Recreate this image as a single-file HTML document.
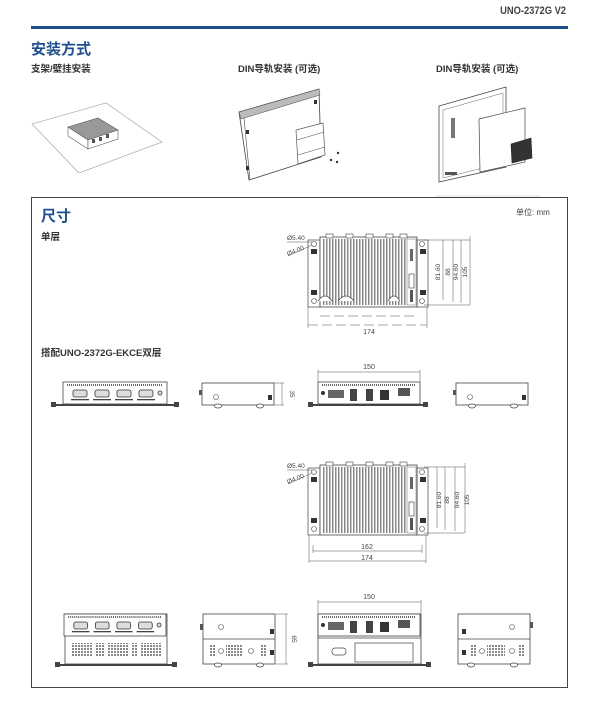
<!DOCTYPE html>
<html><head><meta charset="utf-8"><style>
html,body{margin:0;padding:0;background:#fff}
svg{display:block}
text{font-family:"Liberation Sans","Noto Sans CJK SC",sans-serif}
</style></head><body>
<svg width="600" height="720" viewBox="0 0 600 720" xmlns="http://www.w3.org/2000/svg">
<defs>
<pattern id="fins" width="3" height="10" patternUnits="userSpaceOnUse"><rect width="3" height="10" fill="#fff"/><rect width="1.5" height="10" fill="#888"/></pattern>
<pattern id="vent" width="3" height="3" patternUnits="userSpaceOnUse"><rect width="2" height="2" fill="#888"/></pattern>
<pattern id="teeth" width="2" height="3" patternUnits="userSpaceOnUse"><rect width="1" height="3" fill="#666"/></pattern>
<g id="top">
 <rect x="0" y="6" width="12" height="67" fill="#fff" stroke="#444" stroke-width="0.7"/>
 <rect x="109" y="6" width="11" height="67" fill="#fff" stroke="#444" stroke-width="0.7"/>
 <rect x="3" y="15" width="6" height="5" fill="#333"/><rect x="3" y="56" width="6" height="5" fill="#333"/>
 <rect x="112" y="15" width="6" height="5" fill="#333"/><rect x="112" y="56" width="6" height="5" fill="#333"/>
 <circle cx="6" cy="10" r="2.5" fill="none" stroke="#444" stroke-width="0.6"/><circle cx="6" cy="67" r="2.5" fill="none" stroke="#444" stroke-width="0.6"/>
 <circle cx="114" cy="10" r="2.5" fill="none" stroke="#444" stroke-width="0.6"/><circle cx="114" cy="67" r="2.5" fill="none" stroke="#444" stroke-width="0.6"/>
 <rect x="12" y="3" width="97" height="70" fill="#fff" stroke="#444" stroke-width="0.8"/>
 <rect x="14" y="5" width="84" height="66" fill="url(#fins)"/>
 <rect x="99" y="5" width="9" height="66" fill="#fff" stroke="#666" stroke-width="0.5"/>
 <rect x="101" y="40" width="5" height="14" fill="none" stroke="#333" stroke-width="0.6"/>
 <rect x="102" y="15" width="3" height="12" fill="#666"/><rect x="102" y="56" width="3" height="12" fill="#555"/>
 <rect x="18" y="0" width="7" height="4" fill="#fff" stroke="#444" stroke-width="0.6"/><rect x="38" y="0" width="7" height="4" fill="#fff" stroke="#444" stroke-width="0.6"/><rect x="58" y="0" width="7" height="4" fill="#fff" stroke="#444" stroke-width="0.6"/><rect x="78" y="0" width="7" height="4" fill="#fff" stroke="#444" stroke-width="0.6"/><rect x="92" y="0" width="7" height="4" fill="#fff" stroke="#444" stroke-width="0.6"/>
</g>
<g id="fronttop">
 <rect x="0" y="0" width="104" height="22" fill="#fff" stroke="#444" stroke-width="0.8"/>
 <rect x="4" y="2" width="96" height="2" fill="url(#teeth)"/>
 <g fill="#ddd" stroke="#333" stroke-width="0.8">
 <rect x="10" y="8" width="14" height="7" rx="2"/><rect x="32" y="8" width="14" height="7" rx="2"/><rect x="54" y="8" width="14" height="7" rx="2"/><rect x="76" y="8" width="14" height="7" rx="2"/>
 <circle cx="97" cy="11" r="2"/></g>
 <rect x="8" y="17" width="18" height="1.3" fill="#444"/><rect x="30" y="17" width="18" height="1.3" fill="#444"/><rect x="52" y="17" width="18" height="1.3" fill="#444"/><rect x="74" y="17" width="18" height="1.3" fill="#444"/>
</g>
<g id="front">
 <use href="#fronttop"/>
 <rect x="-10" y="22" width="124" height="2" fill="#444"/>
 <rect x="-12" y="20" width="5" height="5" fill="#444"/><rect x="111" y="20" width="5" height="5" fill="#444"/>
</g>
<g id="side">
 <rect x="0" y="0" width="72" height="22" fill="#fff" stroke="#444" stroke-width="0.8"/>
 <rect x="-3" y="7" width="3" height="5" fill="#555"/><rect x="66" y="12" width="4" height="5" fill="#333"/>
 <circle cx="14" cy="14" r="2.5" fill="none" stroke="#555" stroke-width="0.6"/>
 <ellipse cx="16" cy="23" rx="3.5" ry="2" fill="#fff" stroke="#444" stroke-width="0.7"/><ellipse cx="58" cy="23" rx="3.5" ry="2" fill="#fff" stroke="#444" stroke-width="0.7"/>
</g>
<g id="reartop">
 <rect x="0" y="0" width="102" height="22" fill="#fff" stroke="#444" stroke-width="0.8"/>
 <rect x="4" y="2" width="94" height="2" fill="url(#teeth)"/>
 <rect x="10" y="8" width="16" height="8" fill="#666"/><rect x="32" y="7" width="7" height="12" fill="#444"/><rect x="48" y="7" width="7" height="12" fill="#444"/><rect x="62" y="8" width="9" height="10" fill="#333"/><rect x="80" y="6" width="12" height="8" fill="#555"/>
 <circle cx="5" cy="11" r="2" fill="#333"/>
</g>
<g id="rear">
 <use href="#reartop"/>
 <rect x="-8" y="22" width="118" height="2" fill="#444"/>
 <rect x="-10" y="20" width="5" height="5" fill="#444"/><rect x="105" y="20" width="5" height="5" fill="#444"/>
</g>
</defs>

<!-- header -->
<text x="566" y="14" text-anchor="end" font-size="11" font-weight="bold" fill="#444" transform="translate(566,0) scale(0.85,1) translate(-566,0)">UNO-2372G  V2</text>
<rect x="31" y="26" width="537" height="3" fill="#1f4e8c"/>
<text x="31" y="54" font-size="15" font-weight="bold" fill="#1f4e8c">安装方式</text>
<text x="31" y="72" font-size="9.5" font-weight="bold" fill="#333">支架/壁挂安装</text>
<text x="238" y="72" font-size="9.5" font-weight="bold" fill="#333">DIN导轨安装 (可选)</text>
<text x="436" y="72" font-size="9.5" font-weight="bold" fill="#333">DIN导轨安装 (可选)</text>

<!-- img1 -->
<polygon points="32,124 106,103 162,142 79,173" fill="#fff" stroke="#999" stroke-width="0.6"/>
<polygon points="68,127 98,118 118,130 88,140" fill="#999" stroke="#555" stroke-width="0.6"/>
<polygon points="68,127 88,140 88,149 68,136" fill="#fff" stroke="#555" stroke-width="0.6"/>
<polygon points="88,140 118,130 118,139 88,149" fill="#fff" stroke="#555" stroke-width="0.6"/>
<rect x="92" y="139" width="3" height="4" fill="#555"/><rect x="99" y="137" width="3" height="4" fill="#555"/><rect x="106" y="134" width="3" height="4" fill="#555"/>
<!-- img2 -->
<polygon points="239,112 319,89 321,157 249,180" fill="#fff" stroke="#444" stroke-width="0.8"/>
<polygon points="239,112 319,89 320,95 241,119" fill="#bbb" stroke="#444" stroke-width="0.5"/>
<line x1="244" y1="118" x2="250" y2="180" stroke="#444" stroke-width="0.6"/>
<rect x="246" y="130" width="3" height="4" fill="#333"/><rect x="246" y="166" width="3" height="4" fill="#333"/><rect x="314" y="100" width="3" height="4" fill="#333"/>
<polygon points="296,130 323,123 325,155 298,164" fill="#fff" stroke="#555" stroke-width="0.7"/>
<line x1="297" y1="140" x2="324" y2="132" stroke="#555" stroke-width="0.6"/><line x1="298" y1="155" x2="325" y2="147" stroke="#555" stroke-width="0.6"/>
<circle cx="338" cy="153" r="1.2" fill="#333"/><circle cx="331" cy="160" r="1.2" fill="#333"/><circle cx="337" cy="162" r="1.2" fill="#333"/>
<!-- img3 -->
<line x1="436" y1="196" x2="540" y2="196" stroke="#bbb" stroke-width="0.5"/>
<polygon points="439,106 506,87 506,167 439,182" fill="#fff" stroke="#444" stroke-width="0.8"/>
<polygon points="443,110 503,93 503,163 443,178" fill="none" stroke="#666" stroke-width="0.5"/>
<rect x="451" y="118" width="4" height="20" fill="#777"/>
<polygon points="479,119 525,108 525,162 480,172" fill="#fff" stroke="#444" stroke-width="0.7"/>
<polygon points="511,144 531,138 532,158 512,163" fill="#333" stroke="#222" stroke-width="0.6"/>
<rect x="445" y="172" width="12" height="3" fill="#555"/>

<!-- dimensions box -->
<rect x="31.5" y="197.5" width="536" height="490" fill="none" stroke="#444" stroke-width="1"/>
<text x="41" y="221" font-size="15" font-weight="bold" fill="#1f4e8c">尺寸</text>
<text x="41" y="240" font-size="9.5" font-weight="bold" fill="#333">单层</text>
<text x="516" y="215" font-size="8" fill="#444">单位: mm</text>
<text x="41" y="356" font-size="9.5" font-weight="bold" fill="#333">搭配UNO-2372G-EKCE双层</text>

<!-- top view 1 -->
<use href="#top" x="308" y="234"/>
<path d="M318,248 q7,-10 14,0 M338,248 q8,-10 16,0 M388,248 q6,-10 12,0" transform="translate(0,53)" fill="#fff" stroke="#444" stroke-width="0.7"/>
<g stroke="#555" stroke-width="0.5" fill="none">
<line x1="308" y1="307" x2="308" y2="328"/><line x1="427" y1="307" x2="427" y2="328"/>
<line x1="308" y1="325" x2="427" y2="325" stroke-dasharray="10,4"/>
<line x1="320" y1="316" x2="417" y2="316" stroke-dasharray="10,4"/>
<line x1="424" y1="240" x2="470" y2="240"/><line x1="424" y1="305" x2="470" y2="305"/>
<line x1="443" y1="240" x2="443" y2="300"/><line x1="453" y1="240" x2="453" y2="302"/><line x1="461" y1="240" x2="461" y2="303"/><line x1="470" y1="236" x2="470" y2="305"/>
<line x1="287" y1="242" x2="312" y2="242"/><line x1="288" y1="256" x2="312" y2="245"/>
</g>
<text x="287" y="240" font-size="6.5" fill="#444">Ø5.40</text>
<text x="288" y="256" font-size="6.5" fill="#444" transform="rotate(-22 288 256)">Ø4.00</text>
<text x="369" y="334" font-size="7" fill="#444" text-anchor="middle">174</text>
<g font-size="6.5" fill="#444" text-anchor="middle">
<text transform="translate(440,272) rotate(-90)">81.60</text><text transform="translate(450,272) rotate(-90)">88</text><text transform="translate(458,272) rotate(-90)">94.60</text><text transform="translate(467,272) rotate(-90)">105</text>
</g>

<!-- row 1 -->
<use href="#front" x="63" y="382"/>
<use href="#side" x="202" y="383"/>
<g stroke="#555" stroke-width="0.5"><line x1="274" y1="383" x2="284" y2="383"/><line x1="274" y1="405" x2="284" y2="405"/><line x1="282" y1="383" x2="282" y2="405"/></g>
<text transform="translate(290,394) rotate(90)" font-size="6.5" fill="#444" text-anchor="middle">35</text>
<use href="#rear" x="318" y="382"/>
<g stroke="#555" stroke-width="0.5"><line x1="318" y1="372" x2="420" y2="372"/><line x1="318" y1="370" x2="318" y2="382"/><line x1="420" y1="370" x2="420" y2="382"/></g>
<text x="369" y="369" font-size="7" fill="#444" text-anchor="middle">150</text>
<use href="#side" x="456" y="383"/>

<!-- top view 2 -->
<use href="#top" x="308" y="462"/>
<g stroke="#555" stroke-width="0.5" fill="none">
<line x1="309" y1="535" x2="309" y2="563"/><line x1="426" y1="535" x2="426" y2="563"/>
<line x1="313" y1="545" x2="313" y2="553"/><line x1="422" y1="545" x2="422" y2="553"/>
<line x1="313" y1="551" x2="422" y2="551"/><line x1="309" y1="561" x2="426" y2="561"/>
<line x1="424" y1="467" x2="465" y2="467"/><line x1="424" y1="533" x2="465" y2="533"/>
<line x1="437" y1="467" x2="437" y2="528"/><line x1="445" y1="467" x2="445" y2="530"/><line x1="455" y1="467" x2="455" y2="531"/><line x1="465" y1="463" x2="465" y2="533"/>
<line x1="287" y1="470" x2="312" y2="470"/><line x1="288" y1="484" x2="312" y2="473"/>
</g>
<text x="287" y="468" font-size="6.5" fill="#444">Ø5.40</text>
<text x="288" y="484" font-size="6.5" fill="#444" transform="rotate(-22 288 484)">Ø4.00</text>
<text x="367" y="549" font-size="7" fill="#444" text-anchor="middle">162</text>
<text x="367" y="560" font-size="7" fill="#444" text-anchor="middle">174</text>
<g font-size="6.5" fill="#444" text-anchor="middle">
<text transform="translate(441,500) rotate(-90)">81.60</text><text transform="translate(449,500) rotate(-90)">88</text><text transform="translate(459,500) rotate(-90)">94.60</text><text transform="translate(469,500) rotate(-90)">105</text>
</g>

<!-- row 2 -->
<g>
<rect x="65" y="614" width="102" height="50" fill="#fff" stroke="#444" stroke-width="0.8"/>
<use href="#fronttop" x="64" y="614" transform="translate(65,0) scale(0.98,1) translate(-65,0)"/>
<rect x="72" y="643" width="20" height="14" fill="url(#vent)"/><rect x="96" y="643" width="8" height="14" fill="url(#vent)"/><rect x="108" y="643" width="20" height="14" fill="url(#vent)"/><rect x="132" y="643" width="6" height="14" fill="url(#vent)"/><rect x="141" y="643" width="20" height="14" fill="url(#vent)"/>
<rect x="55" y="664" width="122" height="2" fill="#444"/><rect x="55" y="662" width="5" height="5" fill="#444"/><rect x="172" y="662" width="5" height="5" fill="#444"/>
</g>
<g>
<rect x="203" y="614" width="72" height="50" fill="#fff" stroke="#444" stroke-width="0.8"/>
<line x1="203" y1="639" x2="275" y2="639" stroke="#444" stroke-width="0.8"/>
<circle cx="221" cy="627" r="2.5" fill="none" stroke="#555" stroke-width="0.6"/>
<rect x="209" y="644" width="6" height="13" fill="url(#vent)"/><rect x="226" y="644" width="16" height="13" fill="url(#vent)"/><rect x="260" y="644" width="6" height="13" fill="url(#vent)"/>
<circle cx="221" cy="651" r="2.5" fill="none" stroke="#555" stroke-width="0.6"/><circle cx="251" cy="651" r="2.5" fill="none" stroke="#555" stroke-width="0.6"/>
<rect x="200" y="624" width="3" height="6" fill="#555"/><rect x="270" y="629" width="4" height="5" fill="#333"/><rect x="270" y="650" width="4" height="5" fill="#333"/>
<ellipse cx="218" cy="665" rx="3.5" ry="2" fill="#fff" stroke="#444" stroke-width="0.7"/><ellipse cx="260" cy="665" rx="3.5" ry="2" fill="#fff" stroke="#444" stroke-width="0.7"/>
</g>
<g stroke="#555" stroke-width="0.5"><line x1="276" y1="614" x2="288" y2="614"/><line x1="276" y1="664" x2="288" y2="664"/><line x1="286" y1="614" x2="286" y2="664"/></g>
<text transform="translate(292,639) rotate(90)" font-size="6.5" fill="#444" text-anchor="middle">65</text>

<g>
<rect x="318" y="614" width="103" height="50" fill="#fff" stroke="#444" stroke-width="0.8"/>
<use href="#reartop" x="318" y="614"/>
<line x1="318" y1="638" x2="421" y2="638" stroke="#444" stroke-width="0.8"/>
<rect x="332" y="648" width="14" height="7" rx="3" fill="#fff" stroke="#444" stroke-width="0.7"/>
<rect x="355" y="643" width="58" height="19" fill="#fff" stroke="#444" stroke-width="0.7"/>
<rect x="310" y="664" width="120" height="2" fill="#444"/><rect x="308" y="662" width="5" height="5" fill="#444"/><rect x="426" y="662" width="5" height="5" fill="#444"/>
</g>
<g stroke="#555" stroke-width="0.5"><line x1="318" y1="602" x2="421" y2="602"/><line x1="318" y1="600" x2="318" y2="614"/><line x1="421" y1="600" x2="421" y2="614"/></g>
<text x="369" y="599" font-size="7" fill="#444" text-anchor="middle">150</text>

<g>
<rect x="458" y="614" width="72" height="50" fill="#fff" stroke="#444" stroke-width="0.8"/>
<line x1="458" y1="639" x2="530" y2="639" stroke="#444" stroke-width="0.8"/>
<circle cx="512" cy="627" r="2.5" fill="none" stroke="#555" stroke-width="0.6"/>
<rect x="471" y="644" width="6" height="13" fill="url(#vent)"/><rect x="487" y="644" width="18" height="13" fill="url(#vent)"/><rect x="518" y="644" width="6" height="13" fill="url(#vent)"/>
<circle cx="482" cy="651" r="2.5" fill="none" stroke="#555" stroke-width="0.6"/><circle cx="512" cy="651" r="2.5" fill="none" stroke="#555" stroke-width="0.6"/>
<rect x="462" y="629" width="4" height="5" fill="#333"/><rect x="462" y="650" width="4" height="5" fill="#333"/><rect x="530" y="622" width="3" height="6" fill="#555"/>
<ellipse cx="471" cy="665" rx="3.5" ry="2" fill="#fff" stroke="#444" stroke-width="0.7"/><ellipse cx="514" cy="665" rx="3.5" ry="2" fill="#fff" stroke="#444" stroke-width="0.7"/>
</g>
</svg>
</body></html>
